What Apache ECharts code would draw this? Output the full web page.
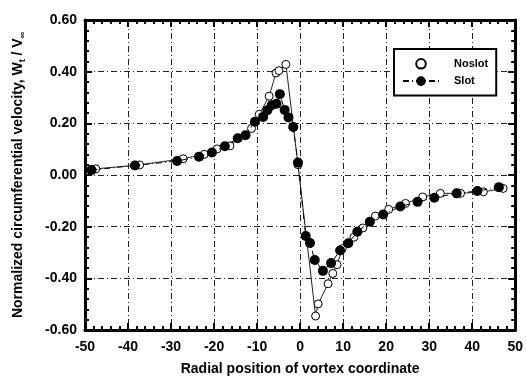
<!DOCTYPE html>
<html>
<head>
<meta charset="utf-8">
<script src="https://cdn.jsdelivr.net/npm/echarts@6/dist/echarts.min.js"></script>
<style>
  html, body { margin: 0; padding: 0; background: #fff; }
  #chart { width: 526px; height: 386px; }
</style>
</head>
<body>
<div id="chart"></div>
<script>
var noslotX = [-47.5, -37.3, -27.2, -22.3, -19.3, -16.3, -11.3, -9.5, -7.2, -5.6, -4.9, -3.3, -0.5, 3.6, 4.2, 6.5, 7.6, 8.6, 9.8, 12.5, 14.6, 17.5, 20.6, 24.5, 28.5, 32.6, 37.3, 42.6, 47.2];
var noslotY = [0.024, 0.039, 0.063, 0.080, 0.101, 0.113, 0.180, 0.235, 0.305, 0.395, 0.404, 0.428, 0.040, -0.546, -0.499, -0.421, -0.381, -0.347, -0.285, -0.241, -0.205, -0.159, -0.133, -0.110, -0.085, -0.071, -0.071, -0.065, -0.052];

var slotX = [-48.5, -38.4, -28.6, -23.5, -20.5, -17.5, -14.5, -12.7, -10.5, -8.6, -7.6, -6.6, -5.5, -4.7, -3.6, -2.7, -1.6, -0.5, 1.3, 2.3, 3.4, 5.3, 7.2, 9.3, 11.2, 13.3, 16.2, 19.3, 23.3, 27.3, 31.2, 36.4, 41.2, 46.2];
var slotY = [0.019, 0.037, 0.054, 0.071, 0.087, 0.111, 0.142, 0.154, 0.206, 0.225, 0.251, 0.270, 0.276, 0.313, 0.252, 0.223, 0.186, 0.048, -0.236, -0.263, -0.329, -0.371, -0.341, -0.292, -0.264, -0.220, -0.181, -0.153, -0.122, -0.104, -0.088, -0.071, -0.062, -0.047];

var xTicks = [-50, -40, -30, -20, -10, 0, 10, 20, 30, 40, 50];
var yTicks = [-0.60, -0.40, -0.20, 0.00, 0.20, 0.40, 0.60];

function pairs(xs, ys) {
    var out = [];
    for (var i = 0; i < xs.length; i++) {
        out.push([xs[i], ys[i]]);
    }
    return out;
}

var font = 'Liberation Sans, Arial, sans-serif';
var gridLine = { show: true, lineStyle: { color: '#222', width: 1, type: [6, 3, 1, 3] } };

function boxAxis(base, extra) {
    var a = {
        axisLine: { show: true, onZero: false, lineStyle: { color: '#000', width: 3 } },
        axisTick: { show: true, inside: true, length: 7, lineStyle: { color: '#000', width: 2 } },
        minorTick: { show: true, splitNumber: 5, length: 4, lineStyle: { color: '#000', width: 2 } },
        splitLine: { show: false }
    };
    for (var k in base) a[k] = base[k];
    for (var k2 in extra) a[k2] = extra[k2];
    return a;
}

var chart = echarts.init(document.getElementById('chart'));
var option = {
    backgroundColor: '#fff',
    animation: false,
    grid: { left: 85, right: 10, top: 20, bottom: 56 },
    legend: {
        orient: 'vertical',
        left: 394,
        top: 49,
        padding: [9, 8, 9, 8],
        itemGap: 6,
        itemWidth: 36,
        itemHeight: 12,
        borderColor: '#000',
        borderWidth: 2,
        backgroundColor: '#fff',
        textStyle: { fontFamily: font, fontWeight: 'bold', fontSize: 11, color: '#000', padding: [0, 0, 0, 10] },
        data: [
            { name: 'Noslot', lineStyle: { opacity: 0 } },
            { name: 'Slot' }
        ]
    },
    xAxis: [
        boxAxis({ type: 'value', min: xTicks[0], max: xTicks[xTicks.length - 1], interval: 10 }, {
            position: 'bottom',
            splitLine: gridLine,
            axisLabel: { margin: 10, fontFamily: font, fontWeight: 'bold', fontSize: 14, color: '#000' },
            name: 'Radial position of vortex coordinate',
            nameLocation: 'middle',
            nameGap: 32,
            nameTextStyle: { fontFamily: font, fontWeight: 'bold', fontSize: 14, color: '#000' }
        }),
        boxAxis({ type: 'value', min: xTicks[0], max: xTicks[xTicks.length - 1], interval: 10 }, {
            position: 'top',
            axisLabel: { show: false }
        })
    ],
    yAxis: [
        boxAxis({ type: 'value', min: yTicks[0], max: yTicks[yTicks.length - 1], interval: 0.2 }, {
            position: 'left',
            splitLine: gridLine,
            axisLabel: {
                margin: 8, fontFamily: font, fontWeight: 'bold', fontSize: 14, color: '#000',
                formatter: function (v) { return v.toFixed(2); }
            },
            name: 'Normalized circumferential velocity, W{s|t} / V{s|∞}',
            nameLocation: 'middle',
            nameGap: 58,
            nameTextStyle: {
                fontFamily: font, fontWeight: 'bold', fontSize: 14, color: '#000',
                rich: { s: { fontFamily: font, fontWeight: 'bold', fontSize: 9, color: '#000', padding: [8, 0, 0, 0] } }
            }
        }),
        boxAxis({ type: 'value', min: yTicks[0], max: yTicks[yTicks.length - 1], interval: 0.2 }, {
            position: 'right',
            axisLabel: { show: false }
        })
    ],
    series: [
        {
            name: 'Noslot',
            type: 'line',
            data: pairs(noslotX, noslotY),
            symbol: 'circle',
            symbolSize: 8,
            itemStyle: { color: '#fff', borderColor: '#000', borderWidth: 1 },
            lineStyle: { color: '#222', width: 1 },
            z: 3
        },
        {
            name: 'Slot',
            type: 'line',
            data: pairs(slotX, slotY),
            symbol: 'circle',
            symbolSize: 10,
            itemStyle: { color: '#000', borderColor: '#000', borderWidth: 0 },
            lineStyle: { color: '#000', width: 1, type: [6, 3, 1, 3] },
            z: 4
        }
    ]
};
chart.setOption(option);
</script>
</body>
</html>
